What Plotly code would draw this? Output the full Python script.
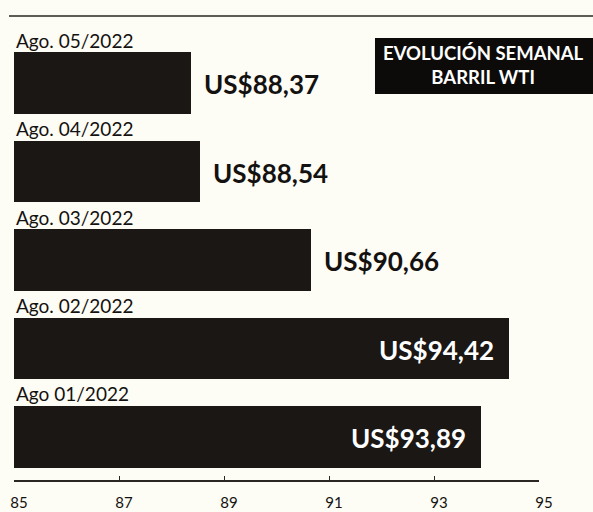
import plotly.graph_objects as go

# ---- data ----
dates = ["Ago. 05/2022", "Ago. 04/2022", "Ago. 03/2022", "Ago. 02/2022", "Ago 01/2022"]
values = [88.37, 88.54, 90.66, 94.42, 93.89]
tick_vals = [85, 87, 89, 91, 93, 95]
title_lines = ["EVOLUCIÓN SEMANAL", "BARRIL WTI"]

BG = "#fdfcf5"
BAR = "#1b1714"
INK = "#141210"

labels = ["US$" + f"{v:.2f}".replace(".", ",") for v in values]

fig = go.Figure()
fig.add_trace(go.Bar(
    x=values, y=dates, orientation="h",
    width=0.70,
    marker=dict(color=BAR, line=dict(width=0)),
    hoverinfo="x+y",
))

annotations = []
for d in dates:
    annotations.append(dict(
        x=0, xref="paper", y=d, yref="y", xanchor="left", yanchor="middle",
        xshift=0, yshift=43, text=d, showarrow=False,
        font=dict(family="Lato", size=19, color=INK),
    ))
for d, v, lab in zip(dates, values, labels):
    inside = v >= 93
    annotations.append(dict(
        x=v, xref="x", y=d, yref="y",
        xanchor="right" if inside else "left", yanchor="middle",
        xshift=-13 if inside else 11, yshift=-1,
        text=f"<b>{lab}</b>", showarrow=False,
        font=dict(family="Lato", size=26, color="white" if inside else INK),
    ))
annotations.append(dict(
    x=0.895, xref="paper", y=0.922, yref="paper", xanchor="center", yanchor="middle",
    text=f"<b>{title_lines[0]}</b><br><b>{title_lines[1]}</b>", showarrow=False,
    font=dict(family="Lato", size=18.5, color="white"),
))

shapes = [
    dict(type="rect", xref="paper", yref="paper", x0=0.6876, x1=1.11, y0=0.858, y1=0.982,
         fillcolor="#0d0b09", line=dict(width=0), layer="above"),
    dict(type="line", xref="paper", yref="paper", x0=-0.0095, x1=1.11, y0=1.031, y1=1.031,
         line=dict(color="#2a2622", width=1.5)),
]

fig.update_layout(
    width=593, height=512,
    margin=dict(l=14, r=54, t=30, b=32),
    paper_bgcolor=BG, plot_bgcolor=BG,
    showlegend=False,
    bargap=0,
    xaxis=dict(
        range=[85, 95], tickvals=tick_vals, ticktext=[str(t) for t in tick_vals],
        showgrid=False, zeroline=False, automargin=False,
        showline=True, linecolor="#2a2622", linewidth=1.5,
        ticks="inside", ticklen=4, tickwidth=1.2, tickcolor="#2a2622",
        tickfont=dict(family="Lato", size=15, color=INK),
        ticklabelshift=5, ticklabelstandoff=8,
        fixedrange=True,
    ),
    yaxis=dict(
        range=[4.486, -0.599], showticklabels=False, showgrid=False, automargin=False,
        zeroline=False, showline=False, ticks="", fixedrange=True,
        categoryorder="array", categoryarray=dates,
    ),
    annotations=annotations,
    shapes=shapes,
)

fig.write_html(
    "out.html",
    config={"displayModeBar": False},
    post_script="document.body.style.margin='0';document.body.style.overflow='hidden';",
)
